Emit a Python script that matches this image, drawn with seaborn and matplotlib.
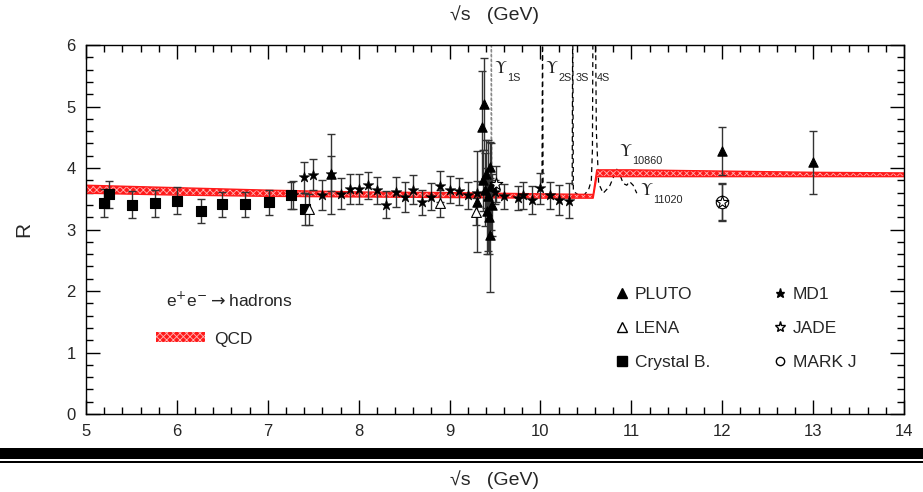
import numpy as np
import matplotlib
matplotlib.use("Agg")
import matplotlib.pyplot as plt
import seaborn as sns
from matplotlib.lines import Line2D
from matplotlib.patches import Patch, Rectangle
from matplotlib.ticker import MultipleLocator

# ---- data: sqrt(s) in GeV, R and its error ----
cb_x = [5.20, 5.25, 5.51, 5.76, 6.00, 6.26, 6.50, 6.75, 7.01, 7.25, 7.41]
cb_r = [3.43, 3.57, 3.40, 3.43, 3.47, 3.30, 3.41, 3.41, 3.44, 3.56, 3.34]
cb_err = [0.23, 0.22, 0.22, 0.22, 0.22, 0.20, 0.20, 0.20, 0.20, 0.22, 0.26]

md1_x = [7.28, 7.40, 7.50, 7.60, 7.70, 7.81, 7.90, 8.00, 8.10, 8.20, 8.30, 8.41,
         8.51, 8.60, 8.70, 8.80, 8.90, 9.00, 9.10, 9.20, 9.30, 9.50, 9.60, 9.75,
         9.81, 9.91, 10.00, 10.10, 10.20, 10.31]
md1_r = [3.56, 3.85, 3.89, 3.56, 3.91, 3.58, 3.66, 3.66, 3.72, 3.64, 3.40, 3.61,
         3.53, 3.65, 3.44, 3.53, 3.70, 3.65, 3.62, 3.56, 3.59, 3.61, 3.54, 3.51,
         3.56, 3.48, 3.67, 3.56, 3.48, 3.47]
md1_err = [0.23, 0.25, 0.25, 0.25, 0.28, 0.25, 0.25, 0.25, 0.22, 0.22, 0.22, 0.24,
           0.24, 0.24, 0.20, 0.22, 0.25, 0.22, 0.22, 0.22, 0.20, 0.20, 0.20, 0.20,
           0.22, 0.22, 0.25, 0.22, 0.25, 0.29]

pluto_x = [7.70, 9.30, 9.36, 9.38, 9.37, 9.39, 9.40, 9.41, 9.42, 9.43, 9.44,
           9.45, 9.46, 9.47, 12.0, 13.0]
pluto_r = [3.91, 3.45, 4.67, 5.04, 3.80, 3.65, 3.90, 3.30, 3.55, 3.20, 4.02,
           2.91, 3.70, 3.40, 4.28, 4.09]
pluto_err = [0.65, 0.82, 0.90, 0.75, 0.50, 0.60, 0.55, 0.70, 0.90, 0.60, 0.40,
             0.93, 0.70, 0.50, 0.39, 0.51]

lena_x = [7.45, 8.90, 9.29]
lena_r = [3.33, 3.43, 3.29]
lena_err = [0.25, 0.22, 0.22]

jade_x = [9.51, 12.0]
jade_r = [3.74, 3.44]
jade_err = [0.30, 0.30]

markj_x = [12.0]
markj_r = [3.45]
markj_err = [0.30]

# QCD band (lower / upper edge)
qcd_x = [5.0, 6.0, 7.0, 8.0, 9.0, 10.0, 10.58, 10.62, 11.0, 12.0, 13.0, 14.0]
qcd_lo = [3.59, 3.56, 3.54, 3.53, 3.52, 3.51, 3.51, 3.86, 3.86, 3.86, 3.86, 3.86]
qcd_hi = [3.72, 3.68, 3.64, 3.61, 3.60, 3.58, 3.57, 3.97, 3.97, 3.95, 3.93, 3.92]

# resonance curves (dashed)
ups1s_x = [9.457, 9.4603, 9.464]
ups1s_r = [3.60, 6.50, 3.60]
ups_x = [10.017, 10.023, 10.029, np.nan,
         10.349, 10.355, 10.362, 10.42, 10.48, 10.53, 10.56, 10.572, 10.578,
         10.605, 10.615, 10.64, 10.69, 10.76, 10.84, 10.87, 10.91, 10.95, 10.98,
         11.02, 11.06]
ups_r = [3.75, 6.50, 3.75, np.nan,
         3.72, 6.50, 3.62, 3.56, 3.56, 3.65, 3.80, 4.30, 6.50,
         6.50, 4.60, 3.75, 3.59, 3.70, 3.98, 3.91, 3.75, 3.72, 3.78,
         3.72, 3.59]

sns.set_style("ticks")
plt.rcParams["font.family"] = ["Liberation Sans", "DejaVu Sans"]
plt.rcParams["hatch.linewidth"] = 0.6

fig = plt.figure(figsize=(9.23, 4.92), dpi=100)
ax = fig.add_axes([0.0932, 0.1585, 0.8862, 0.7500])

# QCD band
ax.fill_between(qcd_x, qcd_lo, qcd_hi, facecolor="#ff1a1a", edgecolor="#ffb3b3",
                hatch="xxxxx", linewidth=0, zorder=2)
sns.lineplot(x=qcd_x, y=qcd_lo, color="#ff1a1a", lw=1.0, ax=ax, zorder=2)
sns.lineplot(x=qcd_x, y=qcd_hi, color="#ff1a1a", lw=1.0, ax=ax, zorder=2)

# resonances
ax.plot(ups1s_x, ups1s_r, color="#888888", ls=(0, (2, 1.5)), lw=1.0, zorder=1)
ax.plot(ups_x, ups_r, color="black", ls=(0, (4, 3)), lw=0.9, zorder=1)


def draw_set(x, r, err, marker, size, face, lw=0.8):
    ax.errorbar(x, r, yerr=err, fmt="none", ecolor="#333333", elinewidth=1.0,
                capsize=3, capthick=1.0, zorder=3)
    sns.scatterplot(x=x, y=r, marker=marker, s=size, color=face, edgecolor="black",
                    linewidth=lw, ax=ax, zorder=5, legend=False)


draw_set(cb_x, cb_r, cb_err, "s", 45, "black")
draw_set(lena_x, lena_r, lena_err, "^", 50, "white")
draw_set(pluto_x, pluto_r, pluto_err, "^", 45, "black")
draw_set(md1_x, md1_r, md1_err, "*", 65, "black", lw=0.4)
draw_set(markj_x, markj_r, markj_err, "o", 80, "white")
draw_set(jade_x, jade_r, jade_err, "*", 90, "white")

ax.set_xlim(5, 14)
ax.set_ylim(0, 6)
ax.xaxis.set_major_locator(MultipleLocator(1))
ax.xaxis.set_minor_locator(MultipleLocator(0.2))
ax.yaxis.set_major_locator(MultipleLocator(1))
ax.yaxis.set_minor_locator(MultipleLocator(0.2))
ax.tick_params(which="both", direction="in", top=True, right=True, width=1.0,
               color="black")
ax.tick_params(which="major", length=10, pad=7.5, labelsize=12)
ax.tick_params(which="minor", length=5)
for sp in ax.spines.values():
    sp.set_linewidth(1.0)
    sp.set_color("black")

ax.set_xlabel("")
ax.set_ylabel("R", fontsize=15)
ax.yaxis.set_label_coords(-0.064, 0.5)

# Upsilon labels
ups_lab = [(9.49, 5.545, "1S"), (10.05, 5.545, "2S"),
           (10.86, 4.19, "10860"), (11.10, 3.56, "11020")]
for ux, uy, sub in ups_lab:
    ax.text(ux, uy, r"$\Upsilon$", math_fontfamily="stix", fontsize=12,
            va="baseline", ha="left")
    ax.annotate(sub, xy=(ux, uy), xytext=(9.5, -5.5), textcoords="offset points",
                fontsize=7.8, va="baseline", ha="left")
ax.annotate("3S", xy=(10.39, 5.545), xytext=(0, -5.5), textcoords="offset points",
            fontsize=7.8, va="baseline", ha="left")
ax.annotate("4S", xy=(10.62, 5.545), xytext=(0, -5.5), textcoords="offset points",
            fontsize=7.8, va="baseline", ha="left")

# process label + QCD legend
ax.text(0.098, 0.290, r"e$^{+}$e$^{-}$$\rightarrow$hadrons", transform=ax.transAxes,
        fontsize=12.5, va="baseline", ha="left")
qcd_leg = ax.legend(handles=[Patch(facecolor="#ff1a1a", edgecolor="#ffb3b3",
                                   hatch="xxxxx", linewidth=0)],
                    labels=["QCD"], loc="center left", bbox_to_anchor=(0.0856, 0.2030),
                    frameon=False, fontsize=12.5, handlelength=2.8, handleheight=0.5,
                    handletextpad=0.55, borderpad=0, borderaxespad=0)
ax.add_artist(qcd_leg)

exp_handles = [
    Line2D([], [], ls="none", marker="^", color="black", markersize=7),
    Line2D([], [], ls="none", marker="^", mfc="white", mec="black", markersize=7),
    Line2D([], [], ls="none", marker="s", color="black", markersize=6.5),
    Line2D([], [], ls="none", marker="*", color="black", markersize=6.5),
    Line2D([], [], ls="none", marker="*", mfc="white", mec="black", markersize=8),
    Line2D([], [], ls="none", marker="o", mfc="white", mec="black", markersize=6),
]
exp_labels = ["PLUTO", "LENA", "Crystal B.", "MD1", "JADE", "MARK J"]
ax.legend(handles=exp_handles, labels=exp_labels, ncol=2, loc="center left",
          bbox_to_anchor=(0.6467, 0.2320), frameon=False, fontsize=12.5,
          handlelength=0.8, handletextpad=0.35, columnspacing=3.6,
          labelspacing=1.1, borderpad=0, borderaxespad=0)

# top / bottom axis titles and separator bars
fig.text(0.536, 0.9695, "\u221as   (GeV)", fontsize=14, ha="center", va="center")
fig.text(0.536, 0.0244, "\u221as   (GeV)", fontsize=14, ha="center", va="center")
fig.add_artist(Rectangle((0, 0.0671), 1, 0.0224, transform=fig.transFigure,
                         facecolor="black", edgecolor="none"))
fig.add_artist(Rectangle((0, 0.0589), 1, 0.0041, transform=fig.transFigure,
                         facecolor="black", edgecolor="none"))

fig.savefig("out.png", dpi=100)
